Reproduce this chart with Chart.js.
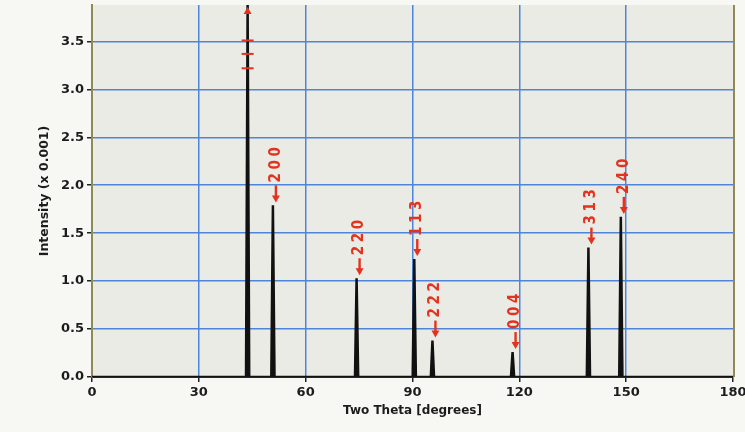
<!DOCTYPE html>
<html>
<head>
<meta charset="utf-8">
<script src="https://cdn.jsdelivr.net/npm/chart.js@4/dist/chart.umd.min.js"></script>
<style>
html,body{margin:0;padding:0;background:#f7f7f3;}
#wrap{width:745px;height:432px;position:relative;}
</style>
</head>
<body>
<div id="wrap"><canvas id="c" width="745" height="432"></canvas></div>
<script>
// ---- data ----
const peakTheta      = [43.7, 50.8, 74.3, 90.5, 95.6, 118.1, 139.4, 148.5];
const peakIntensity  = [3.88, 1.79, 1.03, 1.23, 0.38, 0.26, 1.35, 1.67]; // first peak is off-scale
const peakLabels     = ['', '200', '220', '113', '222', '004', '313', '240'];
const thetaTicks     = [0, 30, 60, 90, 120, 150, 180];
const intensityTicks = [0, 0.5, 1.0, 1.5, 2.0, 2.5, 3.0, 3.5];
const breakMarks     = [3.51, 3.37, 3.22];

// peak profile (narrow triangle) built from the peak arrays
const HALF_WIDTH = 0.45;
const profile = [{x: thetaTicks[0], y: 0}];
peakTheta.forEach((t, i) => {
  profile.push({x: t - HALF_WIDTH, y: 0});
  profile.push({x: t, y: peakIntensity[i]});
  profile.push({x: t + HALF_WIDTH, y: 0});
});
profile.push({x: thetaTicks[thetaTicks.length - 1], y: 0});

const BLUE = '#4d85d9';
const OLIVE = '#8f8a58';
const RED = '#e3321e';

const bgPlugin = {
  id: 'bg',
  beforeDraw(chart) {
    const {ctx, chartArea: a} = chart;
    ctx.save();
    ctx.fillStyle = '#f7f7f3';
    ctx.fillRect(0, 0, chart.width, chart.height);
    ctx.fillStyle = '#ebebe6';
    ctx.fillRect(a.left, a.top, a.right - a.left, a.bottom - a.top);
    ctx.restore();
  }
};

const annPlugin = {
  id: 'ann',
  afterDatasetsDraw(chart) {
    const {ctx} = chart;
    const xs = chart.scales.x, ys = chart.scales.y;
    ctx.save();
    // right frame line
    ctx.strokeStyle = OLIVE;
    ctx.lineWidth = 2;
    ctx.beginPath();
    ctx.moveTo(xs.right + 1, ys.top);
    ctx.lineTo(xs.right + 1, ys.bottom);
    ctx.stroke();

    // rotated peak labels with down-pointing arrows
    ctx.fillStyle = RED;
    ctx.strokeStyle = RED;
    ctx.font = 'bold 15px "DejaVu Sans Condensed", "Liberation Sans Narrow", "DejaVu Sans"';
    ctx.textAlign = 'left';
    ctx.textBaseline = 'middle';
    peakLabels.forEach((lab, i) => {
      if (!lab) return;
      const px = xs.getPixelForValue(peakTheta[i]) + 3;
      const py = ys.getPixelForValue(peakIntensity[i]) - 3;
      ctx.save();
      ctx.translate(px, py);
      ctx.rotate(-Math.PI / 2);
      // arrow (in rotated frame it points toward -x, i.e. down on screen)
      ctx.lineWidth = 2.4;
      ctx.beginPath();
      ctx.moveTo(3, 0);
      ctx.lineTo(17, 0);
      ctx.stroke();
      ctx.beginPath();
      ctx.moveTo(0, 0);
      ctx.lineTo(7, -4);
      ctx.lineTo(7, 4);
      ctx.closePath();
      ctx.fill();
      lab.split('').forEach((c, j) => ctx.fillText(c, 20 + j * 13, 0));
      ctx.restore();
    });

    // break marks on the off-scale first peak
    const bx = xs.getPixelForValue(peakTheta[0]);
    ctx.lineWidth = 2;
    breakMarks.forEach(v => {
      const by = ys.getPixelForValue(v);
      ctx.beginPath();
      ctx.moveTo(bx - 6, by);
      ctx.lineTo(bx + 6, by);
      ctx.stroke();
    });
    const ty = ys.top + 2;
    ctx.beginPath();
    ctx.moveTo(bx, ty);
    ctx.lineTo(bx - 4, ty + 7);
    ctx.lineTo(bx + 4, ty + 7);
    ctx.closePath();
    ctx.fill();
    ctx.restore();
  }
};

new Chart(document.getElementById('c'), {
  type: 'line',
  data: {
    datasets: [{
      data: profile,
      borderColor: '#111111',
      backgroundColor: '#111111',
      borderWidth: 2.5,
      fill: 'origin',
      pointRadius: 0,
      tension: 0
    }]
  },
  options: {
    responsive: false,
    animation: false,
    devicePixelRatio: 1,
    layout: {padding: {left: 0, right: 12, top: 5, bottom: 0}},
    plugins: {legend: {display: false}, tooltip: {enabled: false}},
    scales: {
      x: {
        type: 'linear',
        min: 0, max: 180,
        afterBuildTicks: s => { s.ticks = thetaTicks.map(v => ({value: v})); },
        afterFit: s => { s.height = 55; s.paddingLeft = 0; s.paddingRight = 0; },
        ticks: {
          color: '#1c1c1c', padding: 3, maxRotation: 0,
          font: {family: 'DejaVu Sans', size: 13, weight: 'bold'},
          callback: v => String(v)
        },
        grid: {
          color: ctx => (ctx.tick && (ctx.tick.value === 0 || ctx.tick.value === 180)) ? 'rgba(0,0,0,0)' : BLUE,
          lineWidth: 1.5,
          tickColor: '#222',
          tickLength: 5
        },
        border: {display: true, color: '#2a2a22', width: 2},
        title: {
          display: true, text: 'Two Theta [degrees]', color: '#1c1c1c',
          font: {family: 'DejaVu Sans', size: 12, weight: 'bold'},
          padding: {top: 0, bottom: 14}
        }
      },
      y: {
        min: 0, max: 3.88,
        afterBuildTicks: s => { s.ticks = intensityTicks.map(v => ({value: v})); },
        afterFit: s => { s.width = 92; s.paddingTop = 0; s.paddingBottom = 0; },
        ticks: {
          color: '#1c1c1c', padding: 3,
          font: {family: 'DejaVu Sans', size: 13, weight: 'bold'},
          callback: v => Number(v).toFixed(1)
        },
        grid: {
          color: ctx => (ctx.tick && ctx.tick.value === 0) ? 'rgba(0,0,0,0)' : BLUE,
          lineWidth: 1.5,
          tickColor: '#222',
          tickLength: 5
        },
        border: {display: true, color: OLIVE, width: 2},
        title: {
          display: true, text: 'Intensity (x 0.001)', color: '#1c1c1c',
          font: {family: 'DejaVu Sans', size: 12.5, weight: 'bold'},
          padding: {top: 37, bottom: 0}
        }
      }
    }
  },
  plugins: [bgPlugin, annPlugin]
});
</script>
</body>
</html>
